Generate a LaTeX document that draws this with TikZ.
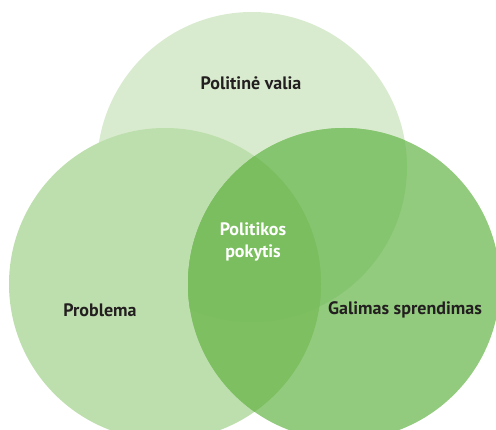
\documentclass[tikz,border=0pt]{standalone}
\usepackage{fontspec}
\setmainfont{PT Sans}
\begin{document}
\begin{tikzpicture}[x=1pt,y=-1pt]
	\def\topcircle{(252,167) circle (155pt)}
	\def\leftcircle{(165,284) circle (156pt)}
	\def\rightcircle{(344,284) circle (156pt)}
	\definecolor{top area}{HTML}{D9EBCE}
	\definecolor{left area}{HTML}{BDDFAD}
	\definecolor{right area}{HTML}{93CB7E}
	\definecolor{top right}{HTML}{86C56F}
	\definecolor{left right}{HTML}{7DBF61}
	\definecolor{all three}{HTML}{7BBE5F}
	\definecolor{label dark}{HTML}{231F20}
	\tikzset{label/.style={font=\bfseries\fontsize{18}{22}\selectfont, text=label dark, align=center},
		inner label/.style={label, text=white}}
	\useasboundingbox (0,0) rectangle (496,430);
	\clip (0,0) rectangle (496,430);
	\fill[top area] \topcircle;
	\fill[left area] \leftcircle;
	\fill[right area] \rightcircle;
	\begin{scope}
		\clip \topcircle;
		\fill[top right] \rightcircle;
	\end{scope}
	\begin{scope}
		\clip \leftcircle;
		\fill[left right] \rightcircle;
	\end{scope}
	\begin{scope}
		\clip \leftcircle;
		\clip \topcircle;
		\fill[all three] \rightcircle;
	\end{scope}
	\node[label] (valia) at (251,83) {Politinė valia};
	\node[label] (problema) at (100,310) {Problema};
	\node[label] (sprendimas) at (405,310) {Galimas sprendimas};
	\node[inner label] (pokytis) at (253,242) {Politikos\\pokytis};
\end{tikzpicture}
\end{document}
